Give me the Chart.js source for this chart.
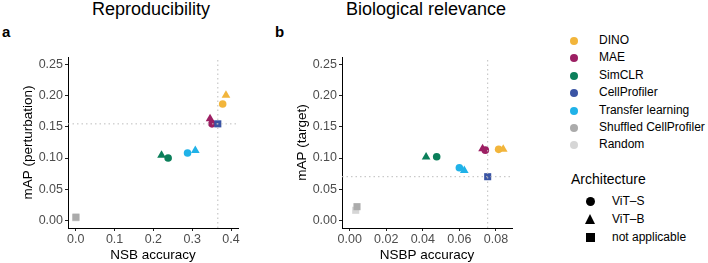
<!DOCTYPE html>
<html>
<head>
<meta charset="utf-8">
<script src="https://cdn.jsdelivr.net/npm/chart.js@4"></script>
<style>
  body { margin: 0; background: #fff; font-family: "Liberation Sans", Arial, sans-serif; }
  #wrap { position: relative; width: 708px; height: 263px; overflow: hidden; }
  .cv { position: absolute; top: 0; }
  .title { position: absolute; top: -1px; font-size: 18px; color: #000; transform: translateX(-50%); white-space: nowrap; }
  .tag { position: absolute; top: 23px; font-size: 15px; font-weight: bold; }
  #legend { position: absolute; left: 560px; top: 32px; font-size: 12px; color: #000; }
  .row { position: absolute; left: 0; height: 18px; white-space: nowrap; }
  .dot { position: absolute; left: 10px; top: 5px; width: 8px; height: 8px; border-radius: 50%; }
  .lab { position: absolute; left: 39px; top: 1px; }
  .archTitle { position: absolute; left: 11px; top: 139px; font-size: 14px; white-space: nowrap; }
  .shape { position: absolute; left: 26px; }
  .alab { position: absolute; left: 52px; }
</style>
</head>
<body>
<div id="wrap">
  <div class="title" style="left:151px">Reproducibility</div>
  <div class="title" style="left:426px">Biological relevance</div>
  <div class="tag" style="left:2px">a</div>
  <div class="tag" style="left:275px">b</div>
  <canvas id="chartA" class="cv" style="left:0px" width="246" height="263"></canvas>
  <canvas id="chartB" class="cv" style="left:274px" width="246" height="263"></canvas>
  <div id="legend"></div>
</div>
<script>
// legend groups
const methods = ['DINO', 'MAE', 'SimCLR', 'CellProfiler', 'Transfer learning', 'Shuffled CellProfiler', 'Random'];
const methodColors = ['#F2B53B', '#9C1F63', '#0B7F5A', '#3A54A4', '#20B2E8', '#ABABAB', '#D6D6D6'];
const archs = ['ViT\u2013S', 'ViT\u2013B', 'not applicable'];
const archShapes = ['circle', 'triangle', 'rect'];

// one entry per point (drawing order)
const pointMethod = ['Random', 'Shuffled CellProfiler', 'SimCLR', 'SimCLR', 'Transfer learning', 'Transfer learning',
  'MAE', 'MAE', 'CellProfiler', 'DINO', 'DINO'];
const pointArch = ['not applicable', 'not applicable', 'ViT\u2013B', 'ViT\u2013S', 'ViT\u2013S', 'ViT\u2013B',
  'ViT\u2013B', 'ViT\u2013S', 'not applicable', 'ViT\u2013S', 'ViT\u2013B'];
// panel a
const nsbAccuracy = [0.000, 0.0005, 0.221, 0.238, 0.288, 0.308, 0.346, 0.351, 0.366, 0.3785, 0.387];
const mapPerturbation = [0.004, 0.005, 0.1046, 0.100, 0.108, 0.112, 0.163, 0.155, 0.155, 0.187, 0.2008];
// panel b
const nsbpAccuracy = [0.0033, 0.004, 0.0418, 0.0476, 0.060, 0.0627, 0.0727, 0.0742, 0.0755, 0.0815, 0.084];
const mapTarget = [0.016, 0.0218, 0.1015, 0.102, 0.0843, 0.080, 0.1148, 0.1127, 0.070, 0.114, 0.114];

// tick labels
const yTicks = [0, 0.05, 0.10, 0.15, 0.20, 0.25];
const xTicksA = [0, 0.1, 0.2, 0.3, 0.4];
const xTicksB = [0, 0.02, 0.04, 0.06, 0.08];

const cpIndex = pointMethod.indexOf('CellProfiler');

function pointRadius(shape) {
  if (shape === 'circle') return 3.8;
  return 5;
}

function buildChart(canvasId, xs, ys, xMin, xMax, xTicks, xDigits, xTitle, yTitle) {
  const yMin = -0.0125, yMax = 0.2625;
  const datasets = [];
  pointMethod.forEach((m, i) => {
    const col = methodColors[methods.indexOf(m)];
    const shape = archShapes[archs.indexOf(pointArch[i])];
    datasets.push({
      type: 'scatter',
      order: 50 - i, // later points drawn on top
      data: [{ x: xs[i], y: ys[i] }],
      pointStyle: shape,
      pointRadius: pointRadius(shape),
      backgroundColor: col,
      borderColor: col,
      borderWidth: 0
    });
  });
  // dotted reference lines through CellProfiler, drawn over the points
  datasets.push({
    type: 'scatter', showLine: true, pointRadius: 0, order: 0,
    data: [{ x: xs[cpIndex], y: yMin }, { x: xs[cpIndex], y: yMax }],
    borderColor: '#BDBDBD', borderWidth: 1, borderDash: [1.5, 3]
  });
  datasets.push({
    type: 'scatter', showLine: true, pointRadius: 0, order: 0,
    data: [{ x: xMin, y: ys[cpIndex] }, { x: xMax, y: ys[cpIndex] }],
    borderColor: '#BDBDBD', borderWidth: 1, borderDash: [1.5, 3]
  });

  const tickFont = { family: 'Liberation Sans', size: 12.5 };
  const titleFont = { family: 'Liberation Sans', size: 13.5 };

  return new Chart(document.getElementById(canvasId), {
    type: 'scatter',
    data: { datasets: datasets },
    options: {
      responsive: false,
      animation: false,
      layout: { padding: { top: 57, right: 8, left: 0, bottom: 0 } },
      plugins: { legend: { display: false }, tooltip: { enabled: false } },
      scales: {
        x: {
          type: 'linear', min: xMin, max: xMax,
          afterBuildTicks: s => { s.ticks = xTicks.map(v => ({ value: v })); },
          afterFit: s => { s.height = 35; },
          ticks: { color: '#4D4D4D', font: tickFont, padding: 1, maxRotation: 0, autoSkip: false,
            callback: v => Number(v).toFixed(xDigits) },
          grid: { drawOnChartArea: false, drawTicks: true, tickLength: 3, color: '#222' },
          border: { display: true, color: '#000', width: 1 },
          title: { display: true, text: xTitle, color: '#000', font: titleFont, padding: { top: 0, bottom: 0 } }
        },
        y: {
          type: 'linear', min: yMin, max: yMax,
          afterBuildTicks: s => { s.ticks = yTicks.map(v => ({ value: v })); },
          afterFit: s => { s.width = 68; },
          ticks: { color: '#4D4D4D', font: tickFont, padding: 2,
            callback: v => Number(v).toFixed(2) },
          grid: { drawOnChartArea: false, drawTicks: true, tickLength: 3, color: '#222' },
          border: { display: true, color: '#000', width: 1 },
          title: { display: true, text: yTitle, color: '#000', font: titleFont, padding: { top: 20, bottom: 0 } }
        }
      }
    }
  });
}

buildChart('chartA', nsbAccuracy, mapPerturbation, -0.02, 0.418, xTicksA, 1, 'NSB accuracy', 'mAP (perturbation)');
buildChart('chartB', nsbpAccuracy, mapTarget, -0.0042, 0.0888, xTicksB, 2, 'NSBP accuracy', 'mAP (target)');

// legend
const legend = document.getElementById('legend');
methods.forEach((m, i) => {
  const row = document.createElement('div');
  row.className = 'row';
  row.style.top = (i * 17.4) + 'px';
  row.innerHTML = '<span class="dot" style="background:' + methodColors[i] + '"></span><span class="lab">' + m + '</span>';
  legend.appendChild(row);
});
const at = document.createElement('div');
at.className = 'archTitle';
at.textContent = 'Architecture';
legend.appendChild(at);
archs.forEach((a, i) => {
  const top = 161 + i * 18;
  const row = document.createElement('div');
  row.className = 'row';
  row.style.top = top + 'px';
  let shape;
  if (archShapes[i] === 'circle') {
    shape = '<span class="shape" style="top:4px;width:9px;height:9px;border-radius:50%;background:#000"></span>';
  } else if (archShapes[i] === 'triangle') {
    shape = '<span class="shape" style="top:3px;left:25px;width:0;height:0;border-left:5.5px solid transparent;border-right:5.5px solid transparent;border-bottom:10px solid #000"></span>';
  } else {
    shape = '<span class="shape" style="top:4px;width:9px;height:9px;background:#000"></span>';
  }
  row.innerHTML = shape + '<span class="alab" style="top:1px">' + a + '</span>';
  legend.appendChild(row);
});
</script>
</body>
</html>
